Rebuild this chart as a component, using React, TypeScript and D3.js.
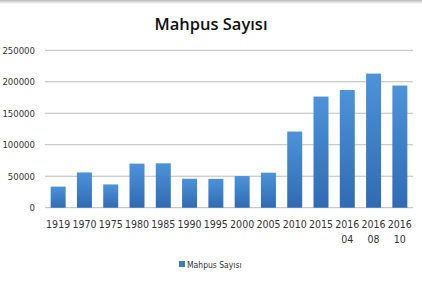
import React from "react";
import * as d3 from "d3";

const categories = ["1919", "1970", "1975", "1980", "1985", "1990", "1995", "2000", "2005", "2010", "2015", "2016\n04", "2016\n08", "2016\n10"];
const values = [33500, 56000, 37000, 70000, 70500, 46000, 45800, 50300, 55600, 121000, 176500, 187000, 213000, 194000];
const yTicks = [0, 50000, 100000, 150000, 200000, 250000];
const title = "Mahpus Sayısı";
const seriesName = "Mahpus Sayısı";

const W = 422, H = 281;
const M = { left: 45, right: 9, top: 50.3, bottom: 73.3 };

export default function App() {
  const x = d3.scaleBand<string>().domain(categories).range([M.left, W - M.right]).paddingInner(0.43).paddingOuter(0.215);
  const y = d3.scaleLinear().domain([0, 250000]).range([H - M.bottom, M.top]);
  const narrow = "'Liberation Sans Narrow', 'DejaVu Sans Condensed', 'Open Sans', sans-serif";
  return (
    <svg width={W} height={H} style={{ position: "absolute", left: 0, top: 0, background: "#fff" }}>
      <defs>
        <linearGradient id="barg" x1="0" y1="0" x2="0" y2="1">
          <stop offset="0%" stopColor="#4d93da" />
          <stop offset="100%" stopColor="#2f6bb2" />
        </linearGradient>
        <linearGradient id="topg" x1="0" y1="0" x2="0" y2="1">
          <stop offset="0%" stopColor="#b8b8b8" />
          <stop offset="100%" stopColor="#ffffff" />
        </linearGradient>
      </defs>
      <rect x={0} y={0} width={W} height={4} fill="url(#topg)" />
      <text x={211} y={30} textAnchor="middle" fontFamily="'Open Sans', sans-serif" fontWeight={600} fontSize={16.5} fill="#111">{title}</text>
      {yTicks.map((t) => (
        <g key={t}>
          <line x1={M.left} x2={W - M.right} y1={y(t)} y2={y(t)} stroke="#bdbdbd" strokeWidth={1} />
          <text x={35} y={y(t) + 3.5} textAnchor="end" fontFamily={narrow} fontSize={9.5} fill="#333">{t}</text>
        </g>
      ))}
      {categories.map((c, i) => (
        <rect key={c} x={x(c)} y={y(values[i])} width={x.bandwidth()} height={y(0) - y(values[i])} fill="url(#barg)" />
      ))}
      {categories.map((c) => {
        const lines = c.split("\n");
        const cx = (x(c) ?? 0) + x.bandwidth() / 2;
        return (
          <text key={c} textAnchor="middle" fontFamily={narrow} fontSize={10.5} fill="#333">
            {lines.map((l, j) => (
              <tspan key={j} x={cx} y={227.5 + j * 15}>{l}</tspan>
            ))}
          </text>
        );
      })}
      <rect x={179} y={261} width={6} height={6} fill="#3a7cc6" />
      <text x={187} y={267.5} fontFamily={narrow} fontSize={8.5} fill="#333">{seriesName}</text>
    </svg>
  );
}
